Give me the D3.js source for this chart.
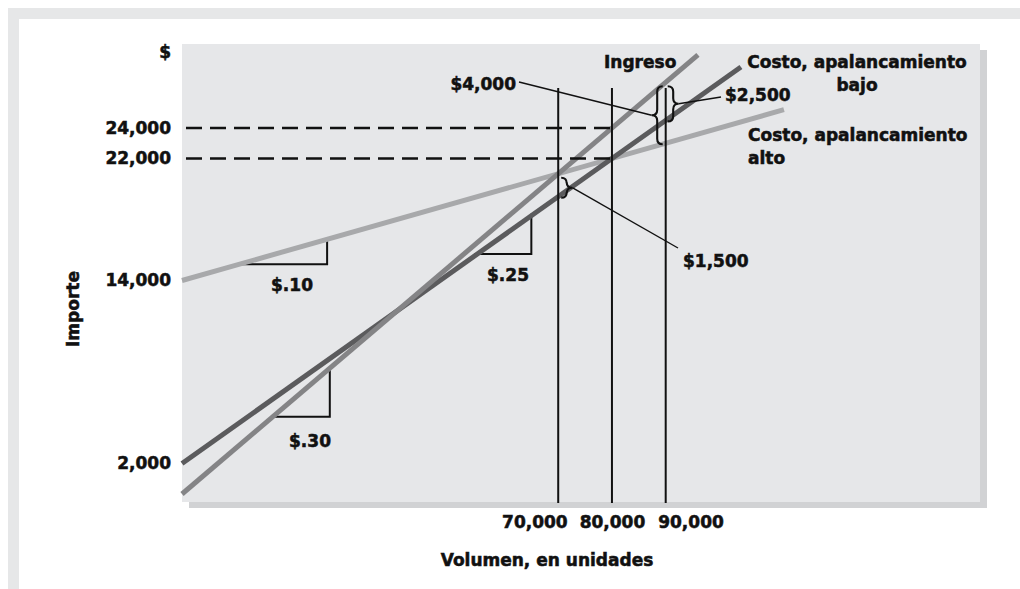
<!DOCTYPE html>
<html><head><meta charset="utf-8">
<script src="https://cdn.jsdelivr.net/npm/d3@7"></script>
<style>
html,body{margin:0;padding:0;background:#fff;}
svg{display:block;}
text{font-family:"DejaVu Sans",sans-serif;font-weight:bold;font-size:17px;fill:#111;stroke:#111;stroke-width:0.55px;}
</style>
</head><body>
<svg id="c" width="1020" height="589"></svg>
<script>
// ---- data ----
const xTicks = [70000, 80000, 90000];
const xTickLabels = ["70,000", "80,000", "90,000"];
const yTicks = [2000, 14000, 22000, 24000];
const yTickLabels = ["2,000", "14,000", "22,000", "24,000"];
const revenue = [[0, 0], [96000, 28800]];
const costLow = [[0, 2000], [104000, 28000]];
const costHigh = [[0, 14000], [112000, 25200]];
const refLevels = [24000, 22000];
const refVolume = 80000;
const markVolumes = [70000, 80000, 90000];
const braceVolumes = [90000, 90000, 70000];
const braceTops = [27000, 27000, 21000];
const braceBottoms = [23000, 24500, 19500];
const braceLabels = ["$4,000", "$2,500", "$1,500"];
const slopeStarts = [12000, 55500, 18000];
const slopeEnds = [27000, 65000, 27500];
const slopeLabels = ["$.10", "$.25", "$.30"];

// ---- layout ----
const svg = d3.select("#c");
const panel = {x0: 182, y0: 44, x1: 980, y1: 502};
const x = d3.scaleLinear().domain([0, 90000]).range([182, 665.7]);
const y = d3.scaleLinear().domain([0, 24000]).range([494, 128]);

// outer frame
svg.append("rect").attr("x", 8).attr("y", 8).attr("width", 1012).attr("height", 581).attr("fill", "#e6e7e8");
svg.append("rect").attr("x", 19).attr("y", 19).attr("width", 1001).attr("height", 570).attr("fill", "#ffffff");
// panel shadow + panel
svg.append("rect").attr("x", panel.x0 + 7).attr("y", panel.y0 + 6)
  .attr("width", panel.x1 - panel.x0).attr("height", panel.y1 - panel.y0).attr("fill", "#d1d2d4");
svg.append("rect").attr("x", panel.x0).attr("y", panel.y0)
  .attr("width", panel.x1 - panel.x0).attr("height", panel.y1 - panel.y0).attr("fill", "#e6e7e9");

const line = d3.line().x(d => x(d[0])).y(d => y(d[1]));
function interp(seg, u) {
  const [a, b] = seg;
  const px = x(u);
  const t = (px - x(a[0])) / (x(b[0]) - x(a[0]));
  return y(a[1]) + t * (y(b[1]) - y(a[1]));
}

// slope triangles (under lines)
const slopeLines = [costHigh, costLow, revenue];
const slopeDrops = [2, 2, 5];
slopeStarts.forEach((u1, i) => {
  const seg = slopeLines[i];
  const u2 = slopeEnds[i];
  const ya = interp(seg, u1) + slopeDrops[i], yb = interp(seg, u2) + slopeDrops[i];
  svg.append("path")
    .attr("d", `M${x(u1) - 6},${ya}L${x(u2)},${ya}L${x(u2)},${yb - 4}`)
    .attr("fill", "none").attr("stroke", "#111").attr("stroke-width", 2);
});
const slopeLabelPos = [[292, 291], [508, 281], [310, 447]];
slopeLabels.forEach((t, i) => {
  svg.append("text").attr("x", slopeLabelPos[i][0]).attr("y", slopeLabelPos[i][1])
    .attr("text-anchor", "middle").text(t);
});

// series lines
svg.append("path").datum(costHigh).attr("d", line).attr("fill", "none").attr("stroke", "#a8a9ab").attr("stroke-width", 5);
svg.append("path").datum(costLow).attr("d", line).attr("fill", "none").attr("stroke", "#5b5b5d").attr("stroke-width", 5);
svg.append("path").datum(revenue).attr("d", line).attr("fill", "none").attr("stroke", "#848486").attr("stroke-width", 5);

// reference dashed lines
refLevels.forEach(v => {
  svg.append("line").attr("x1", 186).attr("x2", x(refVolume)).attr("y1", y(v)).attr("y2", y(v))
    .attr("stroke", "#111").attr("stroke-width", 2.6).attr("stroke-dasharray", "16,8");
});

// vertical volume lines
markVolumes.forEach(u => {
  svg.append("line").attr("x1", x(u)).attr("x2", x(u)).attr("y1", 88).attr("y2", 503)
    .attr("stroke", "#111").attr("stroke-width", 2);
});

// braces
function bracePath(bx, y1, y2, w, d) {
  const ym = (y1 + y2) / 2, h = w / 2, c = bx + d * h;
  return `M${bx},${y1}Q${c},${y1} ${c},${y1 + h}L${c},${ym - h}Q${c},${ym} ${bx + d * w},${ym}` +
         `Q${c},${ym} ${c},${ym + h}L${c},${y2 - h}Q${c},${y2} ${bx},${y2}`;
}
const braceDirs = [-1, 1, 1];
const braceOffsets = [-3, 2, 3];
const braceLabelPos = [[516, 90, "end"], [725, 101, "start"], [683, 267, "start"]];
const leaderEnds = [[519, 82], [721, 97], [678, 248]];
braceVolumes.forEach((u, i) => {
  const bx = x(u) + braceOffsets[i], d = braceDirs[i], w = 11;
  const y1 = y(braceTops[i]) + 4, y2 = y(braceBottoms[i]) + 1;
  svg.append("path").attr("d", bracePath(bx, y1, y2, w, d))
    .attr("fill", "none").attr("stroke", "#111").attr("stroke-width", 2.1);
  const tipX = bx + d * w, tipY = (y1 + y2) / 2;
  svg.append("line").attr("x1", tipX).attr("y1", tipY)
    .attr("x2", leaderEnds[i][0]).attr("y2", leaderEnds[i][1])
    .attr("stroke", "#111").attr("stroke-width", 1.4);
  svg.append("text").attr("x", braceLabelPos[i][0]).attr("y", braceLabelPos[i][1])
    .attr("text-anchor", braceLabelPos[i][2]).text(braceLabels[i]);
});

// axes
const gy = svg.append("g").attr("transform", `translate(${panel.x0},0)`)
  .call(d3.axisLeft(y).tickValues(yTicks).tickFormat((d, i) => yTickLabels[i]).tickSize(0).tickPadding(11));
gy.select(".domain").remove();
gy.attr("font-size", null).attr("font-family", null);
gy.selectAll("text").attr("fill", "#111");

const gx = svg.append("g").attr("transform", `translate(0,${panel.y1})`)
  .call(d3.axisBottom(x).tickValues(xTicks).tickFormat((d, i) => xTickLabels[i]).tickSize(0).tickPadding(14));
gx.select(".domain").remove();
gx.attr("font-size", null).attr("font-family", null);
gx.selectAll("text").attr("fill", "#111")
  .attr("text-anchor", (d, i) => i === 0 ? "end" : i === 2 ? "start" : "middle")
  .attr("x", (d, i) => i === 0 ? 9 : i === 2 ? -8 : 0);

// axis titles
svg.append("text").attr("x", 171).attr("y", 58).attr("text-anchor", "end").text("$");
svg.append("text").attr("transform", "translate(79,309) rotate(-90)").attr("text-anchor", "middle").text("Importe");
svg.append("text").attr("x", 547).attr("y", 566).attr("text-anchor", "middle").text("Volumen, en unidades");

// series labels
svg.append("text").attr("x", 604).attr("y", 68).text("Ingreso");
svg.append("text").attr("x", 857).attr("y", 68).attr("text-anchor", "middle").text("Costo, apalancamiento");
svg.append("text").attr("x", 857).attr("y", 91).attr("text-anchor", "middle").text("bajo");
svg.append("text").attr("x", 748).attr("y", 141).text("Costo, apalancamiento");
svg.append("text").attr("x", 748).attr("y", 164).text("alto");
</script>
</body></html>
